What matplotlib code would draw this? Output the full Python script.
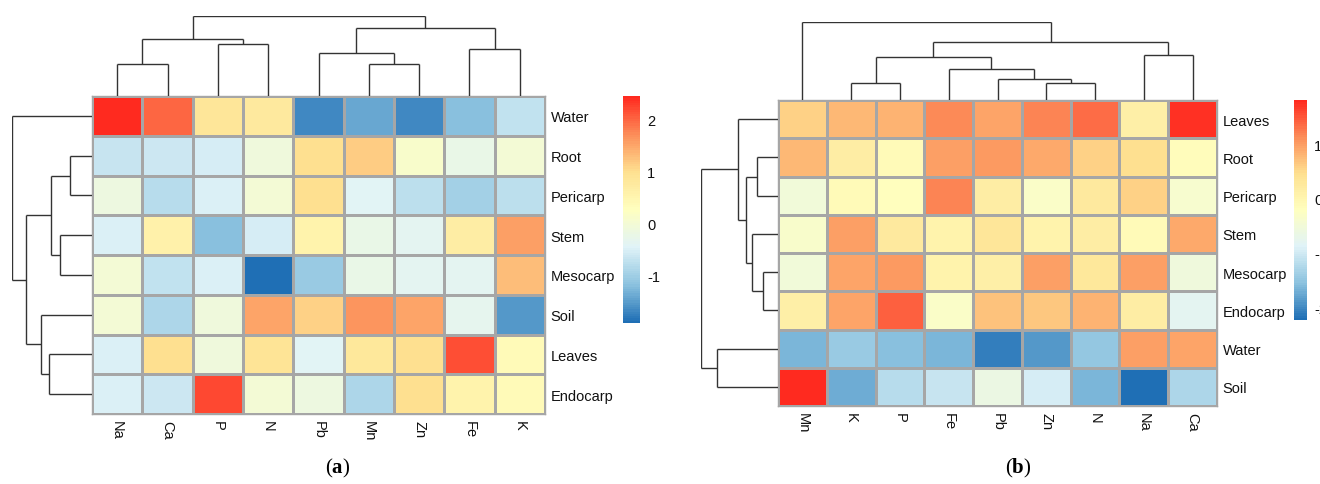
import numpy as np
import matplotlib
matplotlib.use("Agg")
import matplotlib.pyplot as plt
from matplotlib.colors import LinearSegmentedColormap

plt.rcParams['font.family'] = ['Liberation Sans', 'DejaVu Sans']
plt.rcParams['mathtext.fontset'] = 'custom'
plt.rcParams['mathtext.rm'] = 'Liberation Serif'
plt.rcParams['mathtext.bf'] = 'Liberation Serif:bold'

# ---- panel (a) data: rows = tissues, cols = elements (column z-scores)
rows_a = ['Water', 'Root', 'Pericarp', 'Stem', 'Mesocarp', 'Soil', 'Leaves', 'Endocarp']
cols_a = ['Na', 'Ca', 'P', 'N', 'Pb', 'Mn', 'Zn', 'Fe', 'K']
vals_a = [
    [2.44, 2.00, 0.85, 0.75, -1.65, -1.40, -1.65, -1.20, -0.70],
    [-0.65, -0.60, -0.55, -0.10, 1.00, 1.15, 0.10, -0.25, 0.00],
    [-0.15, -0.80, -0.50, 0.00, 1.00, -0.40, -0.75, -0.95, -0.75],
    [-0.50, 0.60, -1.20, -0.55, 0.55, -0.25, -0.35, 0.70, 1.55],
    [0.00, -0.72, -0.50, -1.90, -1.05, -0.25, -0.35, -0.35, 1.30],
    [0.00, -0.90, -0.10, 1.50, 1.10, 1.65, 1.50, -0.30, -1.55],
    [-0.50, 1.00, -0.10, 0.90, -0.40, 0.80, 1.00, 2.15, 0.40],
    [-0.50, -0.60, 2.20, 0.00, -0.15, -0.90, 1.00, 0.55, 0.40],
]
# dendrogram merges (child, child, height)
col_link_a = [(0, 1, 32), (2, 3, 52), (9, 10, 57), (5, 6, 32), (4, 12, 43),
              (7, 8, 47), (13, 14, 68), (11, 15, 80)]
row_link_a = [(1, 2, 22), (3, 4, 32), (8, 9, 41), (6, 7, 43), (5, 11, 51),
              (10, 12, 66), (0, 13, 80)]

# ---- panel (b) data
rows_b = ['Leaves', 'Root', 'Pericarp', 'Stem', 'Mesocarp', 'Endocarp', 'Water', 'Soil']
cols_b = ['Mn', 'K', 'P', 'Fe', 'Pb', 'Zn', 'N', 'Na', 'Ca']
vals_b = [
    [0.60, 0.80, 0.85, 1.15, 0.95, 1.20, 1.35, 0.15, 1.75],
    [0.80, 0.20, -0.10, 1.00, 1.05, 0.90, 0.60, 0.45, -0.15],
    [-0.50, -0.10, -0.20, 1.20, 0.20, -0.30, 0.25, 0.60, -0.40],
    [-0.35, 1.00, 0.25, 0.05, 0.35, 0.05, 0.20, -0.10, 0.90],
    [-0.50, 0.95, 1.05, 0.05, 0.15, 1.00, 0.30, 1.00, -0.55],
    [0.15, 0.95, 1.45, -0.30, 0.70, 0.65, 0.85, 0.20, -0.80],
    [-1.65, -1.45, -1.55, -1.65, -2.10, -1.90, -1.50, 1.00, 0.95],
    [1.83, -1.75, -1.20, -1.10, -0.65, -0.95, -1.65, -2.24, -1.30],
]
col_link_b = [(1, 2, 17), (5, 6, 17), (4, 10, 21), (3, 11, 31), (9, 12, 43),
              (7, 8, 45), (13, 14, 58), (0, 15, 78)]
row_link_b = [(1, 2, 20.7), (4, 5, 15.2), (3, 9, 26.1), (8, 10, 31.6),
              (0, 11, 39.6), (6, 7, 60.7), (12, 13, 77.1)]

palette = ['#1f6fb5', '#8cc3df', '#e0f3f8', '#ffffbf', '#fee090', '#fc8d59', '#ff2a1f']
cmap = LinearSegmentedColormap.from_list('rdylbu_r', palette, N=100)

W, H = 1320, 485
fig = plt.figure(figsize=(W / 100, H / 100), dpi=100)


def box(x0, y0, x1, y1):
    return [x0 / W, 1 - y1 / H, (x1 - x0) / W, (y1 - y0) / H]


def draw_dendro(ax, n, links, orient):
    pos = {i: i + 0.5 for i in range(n)}
    hgt = {i: 0.0 for i in range(n)}
    for k, (a, b, h) in enumerate(links):
        xa, xb = pos[a], pos[b]
        for seg in ([xa, xa], [hgt[a], h]), ([xb, xb], [hgt[b], h]), ([xa, xb], [h, h]):
            if orient == 'top':
                ax.plot(seg[0], seg[1], color='#333333', lw=1.0, solid_capstyle='butt')
            else:
                ax.plot(seg[1], seg[0], color='#333333', lw=1.0, solid_capstyle='butt')
        pos[n + k] = (xa + xb) / 2
        hgt[n + k] = h
    top = max(l[2] for l in links)
    if orient == 'top':
        ax.set_xlim(0, n)
        ax.set_ylim(0, top)
    else:
        ax.set_ylim(n, 0)
        ax.set_xlim(top, 0)
    ax.axis('off')


def panel(vals, rows, cols, col_link, row_link, hm, cdend_top, rdend_left, cb, ticks, label, label_x):
    data = np.array(vals)
    x0, y0, x1, y1 = hm
    ax = fig.add_axes(box(x0, y0, x1, y1))
    mesh = ax.pcolormesh(data, cmap=cmap, vmin=data.min(), vmax=data.max(),
                         edgecolors='#a6a6a6', linewidth=1.0)
    ax.set_xlim(0, len(cols))
    ax.set_ylim(len(rows), 0)
    ax.set_xticks(np.arange(len(cols)) + 0.5)
    ax.set_xticklabels(cols, rotation=270, fontsize=10.5)
    ax.set_yticks(np.arange(len(rows)) + 0.5)
    ax.set_yticklabels(rows, fontsize=10.5)
    ax.yaxis.tick_right()
    ax.tick_params(length=0, pad=4, labelcolor='#111111')
    for s in ax.spines.values():
        s.set_color('#a6a6a6')
        s.set_linewidth(1.0)

    axc = fig.add_axes(box(x0, cdend_top, x1, y0))
    draw_dendro(axc, len(cols), col_link, 'top')
    axr = fig.add_axes(box(rdend_left, y0, x0, y1))
    draw_dendro(axr, len(rows), row_link, 'left')

    cax = fig.add_axes(box(*cb))
    cbar = fig.colorbar(mesh, cax=cax, ticks=ticks)
    cbar.outline.set_visible(False)
    cax.tick_params(length=0, pad=5, labelsize=10.5, labelcolor='#111111')
    cbar.ax.set_yticklabels([str(t) for t in ticks])

    fig.text(label_x / W, 1 - 468 / H, r'($\mathbf{' + label + '}$)', ha='center', va='center',
             fontsize=15, family='Liberation Serif')


panel(vals_a, rows_a, cols_a, col_link_a, row_link_a,
      (92, 97, 545, 415), 17, 12, (623, 97, 640, 324), [-1, 0, 1, 2], 'a', 338)
panel(vals_b, rows_b, cols_b, col_link_b, row_link_b,
      (778, 101, 1217, 407), 23, 701, (1294, 101, 1307, 321), [-2, -1, 0, 1], 'b', 1018)

fig.savefig('out.png', dpi=100)
